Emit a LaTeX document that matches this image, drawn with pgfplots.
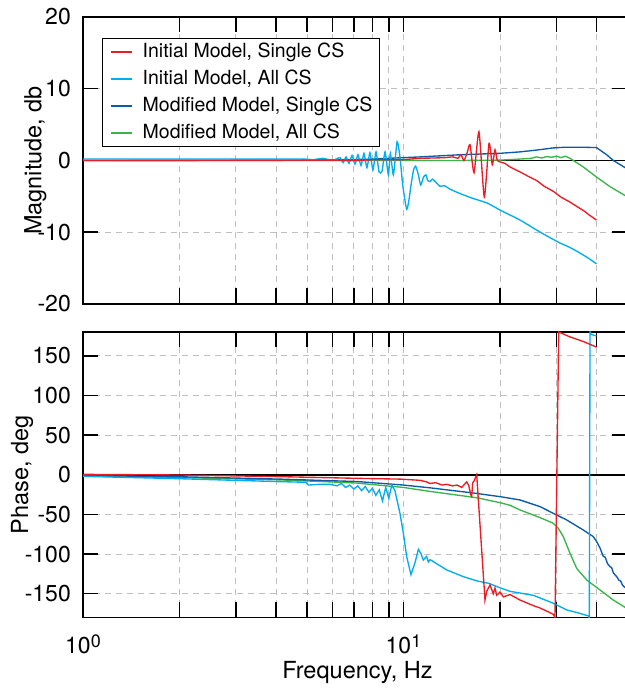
\documentclass[border=0pt]{standalone}
\usepackage{fontspec}
\setmainfont{TeX Gyre Heros}
\usepackage{pgfplots}
\pgfplotsset{compat=1.18}
\definecolor{cRed}{RGB}{237,28,36}
\definecolor{cCyan}{RGB}{0,174,239}
\definecolor{cBlue}{RGB}{10,92,168}
\definecolor{cGreen}{RGB}{57,181,74}
\pgfplotsset{
  bode/.style={
    scale only axis, width=544.5pt,
    xmin=1, xmax=50,
    tick align=inside, major tick length=15.5pt, minor tick length=15.5pt,
    xtick={1,10}, minor xtick={2,3,4,5,6,7,8,9,20,30,40},
    grid=both,
    major grid style={black!25, dash pattern=on 6pt off 5pt, line width=0.9pt},
    minor grid style={black!25, dash pattern=on 6pt off 5pt, line width=0.9pt},
    every tick/.style={black, line width=1.5pt},
    every minor tick/.append style={black, line width=1.5pt},
    axis line style={line width=1.5pt},
    tick label style={font=\fontsize{23}{27}\selectfont},
    label style={font=\fontsize{23.5}{28}\selectfont},
    /pgf/number format/assume math mode=true,
    yticklabel style={inner sep=0pt, xshift=-12pt},
    every axis plot/.append style={line width=1.35pt},
  }
}
\begin{document}
\begin{tikzpicture}
% ---------------- magnitude ----------------
\begin{semilogxaxis}[bode, at={(83pt,386pt)}, anchor=south west, height=287pt,
  ymin=-20, ymax=20, ytick={-20,-10,0,10,20}, xticklabels={},
  ylabel={Magnitude, db},
  ylabel style={at={(axis description cs:-0.0765,0.5)}, anchor=base},
  reverse legend,
  legend cell align=left,
  legend image code/.code={\draw[#1, line width=2pt] (0pt,0.5pt) -- (21pt,0.5pt);},
  legend style={at={(axis description cs:0.0349,0.9268)}, anchor=north west,
    draw=black, line width=1.4pt, fill=white,
    font=\fontsize{19.5}{23}\selectfont,
    inner xsep=7pt, inner ysep=4pt, row sep=8pt,
    nodes={inner sep=0pt, text height=14.5pt, text depth=4.5pt},
    /tikz/every odd column/.append style={column sep=10pt}},
]
\addplot[black, line width=1.8pt, forget plot] coordinates {(1,0) (50,0)};
% Modified Model, All CS
\addplot[cGreen] coordinates {
(1,0) (5,0) (10,0.0) (15,0.0) (20,0.05) (23.1,0.2) (25,0.3) (26,0.5) (27,0.35)
(28,0.55) (29,0.45) (30,0.6) (31,0.4) (32,0.6) (33.1,0.3) (36.4,-0.9) (40,-2.3)
(44.1,-3.65) (48.75,-4.8) (50,-5.1)};
\addlegendentry{Modified Model, All CS}
% Modified Model, Single CS
\addplot[cBlue] coordinates {
(1,0) (5.9,0.05) (8,0.2) (11.26,0.5) (15,0.8) (20,1.0) (23.1,1.2) (26,1.45)
(29.3,1.75) (32,1.85) (36,1.85) (40,1.8) (43.05,0.8) (45.16,0.0) (48.75,-0.9) (50,-1.2)};
\addlegendentry{Modified Model, Single CS}
% Initial Model, All CS
\addplot[cCyan, smooth, tension=0.35] coordinates {
(1,0.2) (2,0.2) (4.75,0.2) (5.2,0.1) (5.6,0.3) (6.0,0.0) (6.16,0.2) (6.34,0.4)
(6.48,-0.3) (6.62,0.5) (6.76,-0.4) (6.91,0.7) (7.06,-0.5) (7.21,0.8) (7.37,-0.7)
(7.53,1.0) (7.69,-1.0) (7.86,1.1) (8.03,-1.3) (8.21,1.2) (8.39,-1.6) (8.57,-1.5)
(8.76,1.2) (8.97,-2.0) (9.1,1.0) (9.3,-2.0) (9.55,2.6) (9.75,0.5) (9.95,-3.5)
(10.23,-6.8) (10.4,-5.5) (10.55,-3.5) (10.75,-1.3) (10.91,-0.8) (11.1,-1.8)
(11.32,-3.4) (11.55,-2.3) (11.75,-2.0) (11.9,-2.8) (12.1,-2.95) (12.3,-2.6)
(12.54,-2.9) (13.0,-3.6) (13.4,-3.5) (13.97,-4.0) (15,-4.6) (16.5,-5.3)
(18.18,-5.9) (20,-6.9) (21.5,-7.6) (23.1,-8.3) (26.04,-9.7) (28.5,-10.7)
(30.78,-11.5) (33,-12.1) (35.54,-12.9) (38,-13.7) (40,-14.4)};
\addlegendentry{Initial Model, All CS}
% Initial Model, Single CS
\addplot[cRed, smooth, tension=0.35] coordinates {
(1,0) (2,0) (4,0.02) (5.9,0.05) (7,0.0) (8,0.1) (9.75,0.1) (11.26,0.3) (12.5,0.35)
(13.5,0.4) (14.27,0.5) (14.79,0.3) (15.11,0.8) (15.44,0.0) (15.78,1.0) (16.13,2.2)
(16.6,-1.7) (17.2,4.0) (17.87,-5.1) (18.49,2.4) (18.93,-0.6) (19.3,1.5) (19.62,0.0)
(20.0,-0.2) (20.73,-0.4) (21.5,-0.9) (23.1,-1.6) (24.5,-2.2) (26.04,-2.8)
(27.5,-3.6) (29.34,-4.3) (31,-5.1) (33.08,-5.8) (35,-6.5) (36.5,-7.0) (38,-7.6) (40,-8.3)};
\addlegendentry{Initial Model, Single CS}
\end{semilogxaxis}
% ---------------- phase ----------------
\begin{semilogxaxis}[bode, at={(83pt,72.5pt)}, anchor=south west, height=285.5pt,
  ymin=-180, ymax=180, ytick={-150,-100,-50,0,50,100,150},
  xticklabels={10\raisebox{6pt}{\fontsize{18}{20}\selectfont 0},10\raisebox{6pt}{\fontsize{18}{20}\selectfont 1}},
  xticklabel style={anchor=north, inner sep=0pt, yshift=-17.5pt},
  ylabel={Phase, deg},
  ylabel style={at={(axis description cs:-0.101,0.5)}, anchor=base},
  xlabel={Frequency, Hz},
  xlabel style={at={(axis description cs:0.504,-0.2126)}, anchor=base},
]
\addplot[black, line width=1.8pt, forget plot] coordinates {(1,0) (50,0)};
\addplot[cGreen] coordinates {
(1,-1.5) (2,-3.5) (4.12,-6.5) (5.9,-9) (7.14,-10.5) (10,-16) (12.1,-21) (16.92,-29)
(20,-35.2) (21.49,-38.5) (23.1,-44.4) (26.67,-54) (29.34,-61.2) (30.41,-67.5)
(31.52,-78) (33.08,-99) (34.7,-118) (37.29,-132.7) (41.04,-145.3) (45.16,-158)
(48.75,-166.4) (50,-169)};
\addplot[cBlue] coordinates {
(1,-1) (2,-2.5) (4.12,-5.5) (5.9,-7.5) (7.14,-8.5) (10,-13) (12.1,-16.5) (16.5,-23)
(20,-27.6) (23.1,-31.8) (26.67,-40.2) (29.34,-48.6) (32.3,-57) (36.39,-69.7)
(39.1,-78) (40.07,-84.4) (41,-92) (42.02,-103) (42.6,-104) (43.3,-112) (44.1,-116)
(44.6,-117) (45.2,-124) (46.27,-128.5) (47,-133) (47.6,-134) (48.2,-139) (48.75,-141) (50,-145)};
\addplot[cCyan] coordinates {
(1,-2) (2,-5) (4.12,-8.7) (4.95,-9.5) (5.05,-13) (5.5,-12) (5.9,-12) (6.2,-14)
(6.4,-11) (6.6,-16) (6.8,-13) (7.0,-18) (7.2,-14) (7.4,-20) (7.6,-15) (7.8,-22)
(8.0,-17) (8.2,-26) (8.4,-19) (8.6,-33) (8.8,-16) (9.0,-30) (9.19,-13) (9.4,-20)
(9.75,-48.6) (10.0,-75) (10.23,-103) (10.55,-126) (10.86,-111) (11.13,-94)
(11.35,-100) (11.53,-107.5) (11.81,-103) (11.95,-110) (12.10,-107) (13.64,-120)
(15.37,-128.5) (17.0,-134) (18.5,-137) (19.54,-141) (21.49,-147) (25.41,-152)
(29.34,-162) (32.3,-170.5) (35,-174) (37.72,-178) (38.0,-180) (38.2,180) (38.5,177) (40,175)};
\addplot[cRed] coordinates {
(1,0.5) (2,-0.3) (4.12,-2.4) (7.14,-4.5) (9.75,-5.5) (11.26,-7) (11.8,-9) (12.1,-11)
(12.6,-10) (13.2,-13) (13.64,-12) (14.2,-14) (14.7,-13) (15.2,-16) (15.5,-12)
(15.75,-9) (16.0,-14) (16.2,-25) (16.32,-27) (16.45,-10) (16.6,-8) (16.92,0)
(17.96,-158) (18.18,-147) (18.62,-139) (19.06,-150) (19.3,-143) (19.54,-152)
(20.0,-148) (20.5,-154) (21.49,-151) (23.1,-158) (25.4,-165) (26.67,-168) (28,-172)
(29.34,-176) (29.7,-180) (30.5,180) (33,174) (36.4,168) (40,161)};
\end{semilogxaxis}
\pgfresetboundingbox
\path[use as bounding box] (0,0) rectangle (624pt,690pt);
\end{tikzpicture}
\end{document}
